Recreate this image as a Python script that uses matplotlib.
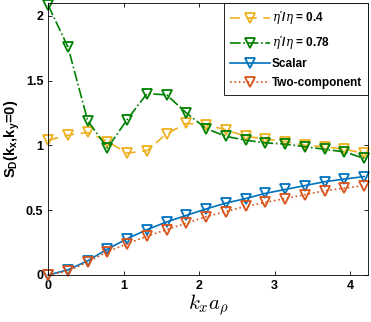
import numpy as np
import matplotlib.pyplot as plt

plt.rcParams['font.family'] = ['Liberation Sans', 'DejaVu Sans']
plt.rcParams['mathtext.fontset'] = 'custom'
plt.rcParams['mathtext.rm'] = 'Liberation Sans:bold'
plt.rcParams['mathtext.bf'] = 'Liberation Sans:bold'
plt.rcParams['mathtext.it'] = 'DejaVu Serif:italic'

# k_x a_rho sampled at multiples of pi/12
kx = np.arange(17) * np.pi / 12

eta_04 = [1.04, 1.08, 1.10, 1.03, 0.94, 0.96, 1.09, 1.17, 1.16, 1.12,
          1.07, 1.05, 1.03, 1.00, 0.99, 0.97, 0.94]
eta_078 = [2.08, 1.76, 1.19, 0.98, 1.20, 1.40, 1.39, 1.25, 1.13, 1.07,
           1.04, 1.02, 1.01, 0.99, 0.97, 0.95, 0.90]
scalar = [0.0, 0.04, 0.11, 0.20, 0.28, 0.35, 0.41, 0.46, 0.51, 0.555,
          0.59, 0.63, 0.66, 0.69, 0.72, 0.74, 0.76]
two_comp = [0.0, 0.03, 0.10, 0.18, 0.24, 0.30, 0.35, 0.40, 0.45, 0.49,
            0.53, 0.56, 0.59, 0.62, 0.65, 0.67, 0.69]

fig = plt.figure(figsize=(3.71, 3.22), dpi=100)
ax = fig.add_axes([0.130, 0.146, 0.862, 0.845])

mk = dict(marker='v', ms=7, mfc='none', mew=1.3, lw=1.2, clip_on=False)
ax.plot(kx, eta_04, color='#EDB120', ls=(0, (6, 4)),
        label=r"$\eta'/\eta$ = 0.4", **mk)
ax.plot(kx, eta_078, color='#008000', ls='-.',
        label=r"$\eta'/\eta$ = 0.78", **mk)
ax.plot(kx, scalar, color='#0072BD', ls='-', label='Scalar', **mk)
ax.plot(kx, two_comp, color='#D95319', ls=':', label='Two-component', **mk)

ax.set_xlim(0, 4.24)
ax.set_ylim(0, 2.1)
ax.set_xticks([0, 1, 2, 3, 4])
ax.set_yticks([0, 0.5, 1, 1.5, 2])
ax.set_yticklabels(['0', '0.5', '1', '1.5', '2'])
ax.tick_params(direction='in', top=True, right=True, labelsize=9, length=3,
               width=0.6)
for lab in ax.get_xticklabels() + ax.get_yticklabels():
    lab.set_fontweight('bold')
for sp in ax.spines.values():
    sp.set_linewidth(0.6)

ax.set_xlabel(r'$k_x a_\rho$', fontsize=15, labelpad=1, math_fontfamily='cm')
ax.set_ylabel(r'S$_\mathbf{D}$(k$_\mathbf{x}$,k$_\mathbf{y}$=0)',
              fontsize=10.5, fontweight='bold', labelpad=3)

leg = ax.legend(loc='upper right', prop={'weight': 'bold', 'size': 8.5},
                fancybox=False, edgecolor='black', framealpha=1,
                borderaxespad=0.0, handlelength=3.4, labelspacing=0.55,
                borderpad=0.5, handletextpad=0.2)
leg.get_frame().set_linewidth(0.6)

fig.savefig('out.png', dpi=100)
